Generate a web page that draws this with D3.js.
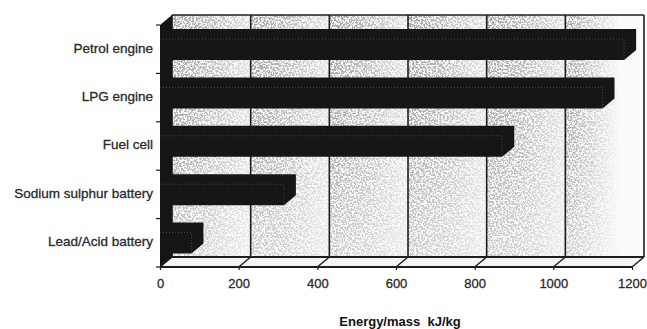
<!DOCTYPE html>
<html>
<head>
<meta charset="utf-8">
<script src="https://cdn.jsdelivr.net/npm/d3@7"></script>
<style>
  body { margin: 0; background: #fff; }
  svg { display: block; }
  text { font-family: "Liberation Sans", Arial, sans-serif; }
</style>
</head>
<body>
<div id="chart"></div>
<script>
let categories = ["Petrol engine", "LPG engine", "Fuel cell", "Sodium sulphur battery", "Lead/Acid battery"];
let values = [1180, 1125, 870, 315, 80];
let xTicks = [0, 200, 400, 600, 800, 1000, 1200];
let xTitle = "Energy/mass  kJ/kg";

let width = 647;
let height = 329;

// 3d depth offset
let dx = 12;
let dy = 10;

let svg = d3.select("#chart")
  .append("svg")
    .attr("width", width)
    .attr("height", height);

let xScale = d3.scaleLinear().domain([0, 1200]).range([160, 632]);
let yScale = d3.scaleBand().domain(categories).range([25, 267]);

let x0 = xScale(0), x1 = xScale(1200);
let yTop = yScale.range()[0], yBot = yScale.range()[1];

let defs = svg.append("defs");

// speckle texture
let spk = defs.append("filter").attr("id", "spk")
  .attr("x", 0).attr("y", 0).attr("width", 1).attr("height", 1);
spk.append("feTurbulence")
  .attr("type", "fractalNoise").attr("baseFrequency", 0.55)
  .attr("numOctaves", 3).attr("seed", 7);
spk.append("feColorMatrix")
  .attr("type", "matrix")
  .attr("values", "0 0 0 0 0.35  0 0 0 0 0.35  0 0 0 0 0.35  -7 0 0 0 4.0");

// each wall cell is darker near its left gridline
let hg = defs.append("linearGradient").attr("id", "cellfade")
  .attr("x1", 0).attr("x2", 1).attr("y1", 0).attr("y2", 0);
hg.append("stop").attr("offset", 0).attr("stop-color", "#fff");
hg.append("stop").attr("offset", 0.5).attr("stop-color", "#bbb");
hg.append("stop").attr("offset", 1).attr("stop-color", "#444");

let lg = defs.append("linearGradient").attr("id", "lastfade")
  .attr("x1", 0).attr("x2", 1).attr("y1", 0).attr("y2", 0);
lg.append("stop").attr("offset", 0).attr("stop-color", "#fff");
lg.append("stop").attr("offset", 0.3).attr("stop-color", "#999");
lg.append("stop").attr("offset", 0.7).attr("stop-color", "#000");

let vg = defs.append("linearGradient").attr("id", "vfade")
  .attr("x1", 0).attr("x2", 0).attr("y1", 0).attr("y2", 1);
vg.append("stop").attr("offset", 0).attr("stop-color", "#fff");
vg.append("stop").attr("offset", 0.5).attr("stop-color", "#ddd");
vg.append("stop").attr("offset", 1).attr("stop-color", "#888");

let maskCells = defs.append("mask").attr("id", "mcells")
  .attr("maskUnits", "userSpaceOnUse")
  .attr("x", 0).attr("y", 0).attr("width", width).attr("height", height);
maskCells.selectAll("rect").data(xTicks.slice(0, -1)).enter()
  .append("rect")
    .attr("x", d => xScale(d) + dx)
    .attr("y", yTop - dy)
    .attr("width", d => xScale(d + 200) - xScale(d))
    .attr("height", yBot - yTop)
    .attr("fill", d => d == 1000 ? "url(#lastfade)" : "url(#cellfade)");

let maskV = defs.append("mask").attr("id", "mv")
  .attr("maskUnits", "userSpaceOnUse")
  .attr("x", 0).attr("y", 0).attr("width", width).attr("height", height);
maskV.append("rect")
  .attr("x", x0 + dx).attr("y", yTop - dy)
  .attr("width", x1 - x0).attr("height", yBot - yTop)
  .attr("fill", "url(#vfade)");

// back wall
svg.append("rect")
  .attr("x", x0 + dx).attr("y", yTop - dy)
  .attr("width", x1 - x0).attr("height", yBot - yTop)
  .attr("fill", "#fafafa");

svg.append("g").attr("mask", "url(#mv)")
  .append("g").attr("mask", "url(#mcells)")
  .append("rect")
    .attr("x", x0 + dx).attr("y", yTop - dy)
    .attr("width", x1 - x0).attr("height", yBot - yTop)
    .attr("fill", "#fff")
    .attr("filter", "url(#spk)");

// gridlines
svg.selectAll(".grid").data(xTicks).enter()
  .append("line")
    .attr("class", "grid")
    .attr("x1", d => xScale(d) + dx).attr("x2", d => xScale(d) + dx)
    .attr("y1", yTop - dy).attr("y2", yBot - dy)
    .attr("stroke", "#1e1e1e")
    .attr("stroke-width", 1.6);

svg.append("line")
  .attr("x1", x0 + dx).attr("x2", x1 + dx)
  .attr("y1", yTop - dy).attr("y2", yTop - dy)
  .attr("stroke", "#1e1e1e").attr("stroke-width", 1.6);

// floor
svg.append("polygon")
  .attr("points", [[x0, yBot], [x1, yBot], [x1 + dx, yBot - dy], [x0 + dx, yBot - dy]].join(" "))
  .attr("fill", "#f4f4f4");

svg.append("line")
  .attr("x1", x0 + dx).attr("x2", x1 + dx)
  .attr("y1", yBot - dy).attr("y2", yBot - dy)
  .attr("stroke", "#1e1e1e").attr("stroke-width", 1.8);
svg.append("line")
  .attr("x1", x0).attr("x2", x1)
  .attr("y1", yBot).attr("y2", yBot)
  .attr("stroke", "#1e1e1e").attr("stroke-width", 2);
svg.selectAll(".floortick").data(xTicks).enter()
  .append("line")
    .attr("class", "floortick")
    .attr("x1", d => xScale(d)).attr("x2", d => xScale(d) + dx)
    .attr("y1", yBot).attr("y2", yBot - dy)
    .attr("stroke", "#1e1e1e")
    .attr("stroke-width", 1.4);

// left side wall
svg.append("polygon")
  .attr("points", [[x0, yTop], [x0 + dx, yTop - dy], [x0 + dx, yBot - dy], [x0, yBot]].join(" "))
  .attr("fill", "#151515");

// bars
let bars = svg.selectAll(".bar").data(categories).enter()
  .append("g")
    .attr("class", "bar");

function barPoints(d, i) {
  let bt = yScale(d) + 14;
  let bb = yScale(d) + 35;
  let be = xScale(values[i]);
  return [[x0, bt], [x0 + dx, bt - dy], [be + dx, bt - dy], [be + dx, bb - dy], [be, bb], [x0, bb]].join(" ");
}

bars.append("polygon")
  .attr("points", barPoints)
  .attr("fill", "#161616");

bars.append("polyline")
  .attr("points", (d, i) => {
    let bt = yScale(d) + 14;
    let bb = yScale(d) + 35;
    let be = xScale(values[i]);
    return [[x0, bt], [be, bt], [be, bb]].join(" ");
  })
  .attr("fill", "none")
  .attr("stroke", "#8a8a8a")
  .attr("stroke-width", 0.8)
  .attr("stroke-dasharray", "1,2")
  .attr("opacity", 0.6);

// y axis
let yAxis = d3.axisLeft(yScale).tickSize(0).tickPadding(7);
let yAxisGroup = svg.append("g")
  .attr("transform", "translate(" + x0 + ",0)")
  .call(yAxis);
yAxisGroup.select(".domain").remove();
yAxisGroup.selectAll("text")
  .attr("dy", "0.25em")
  .style("font-size", "13.5px")
  .attr("fill", "#222")
  .attr("stroke", "#333")
  .attr("stroke-width", 0.3);

let yEdges = d3.range(categories.length + 1).map(i => yTop + i * yScale.step());
svg.selectAll(".ytick").data(yEdges).enter()
  .append("line")
    .attr("class", "ytick")
    .attr("x1", x0 - 4).attr("x2", x0)
    .attr("y1", d => d).attr("y2", d => d)
    .attr("stroke", "#1e1e1e")
    .attr("stroke-width", 1.2);

// x axis
let xAxis = d3.axisBottom(xScale).tickValues(xTicks).tickSize(3).tickPadding(9).tickFormat(d3.format("d"));
let xAxisGroup = svg.append("g")
  .attr("transform", "translate(0," + yBot + ")")
  .call(xAxis);
xAxisGroup.select(".domain").remove();
xAxisGroup.selectAll("line").attr("stroke", "#1e1e1e").attr("stroke-width", 1.2);
xAxisGroup.selectAll("text")
  .style("font-size", "13px")
  .attr("fill", "#222")
  .attr("stroke", "#333")
  .attr("stroke-width", 0.3);

svg.append("text")
  .attr("x", 400)
  .attr("y", 326)
  .attr("text-anchor", "middle")
  .style("font-size", "13px")
  .style("font-weight", "bold")
  .style("white-space", "pre")
  .attr("fill", "#111")
  .text(xTitle);
</script>
</body>
</html>
